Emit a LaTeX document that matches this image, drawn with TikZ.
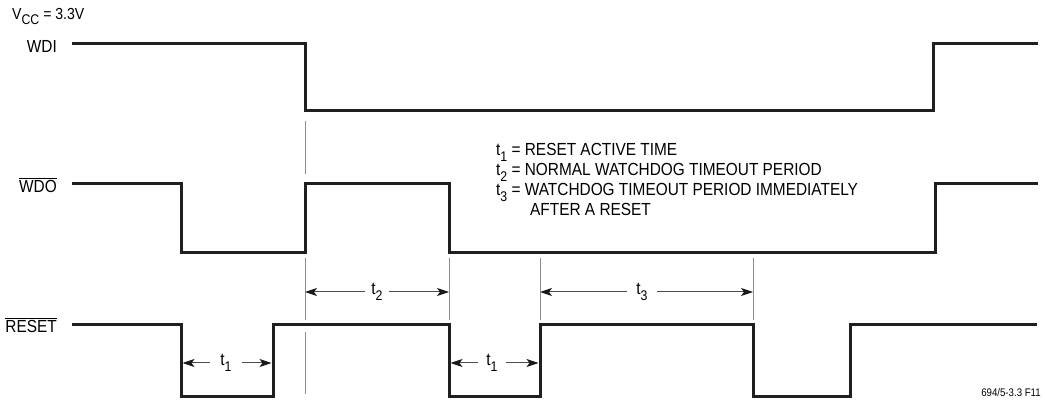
\documentclass[tikz,border=0pt]{standalone}
\usepackage{fontspec}
\setmainfont{Liberation Sans}[FakeStretch=0.88]
\usetikzlibrary{arrows.meta}
\newcommand\lsub[1]{\raisebox{-0.32em}{\fontsize{14}{14}\selectfont #1}}
\newcommand\ovl[1]{$\overline{\hbox{#1}}$}
\begin{document}
\begin{tikzpicture}[x=1pt,y=-1pt,
  sig/.style={line width=3pt,color=black!88,line join=miter},
  ext/.style={line width=1pt,color=black!45},
  dim/.style={line width=1pt,color=black!70,-{Stealth[length=12pt,width=8pt,inset=3pt,color=black!90]}},
  lbl/.style={font=\fontsize{17.5}{20}\selectfont,inner sep=0pt},
  tlbl/.style={font=\fontsize{17.5}{20}\selectfont,inner ysep=0pt,inner xsep=9pt}]
\path[use as bounding box] (0,0) rectangle (1045,403);

% signal labels
\node[lbl,anchor=base west,font=\fontsize{16}{18}\selectfont] (vcc) at (12,19.5) {V\lsub{CC} = 3.3V};
\node[lbl,anchor=east] (wdi) at (57,46) {WDI};
\node[lbl,anchor=east] (wdo) at (57,185) {\ovl{WDO}};
\node[lbl,anchor=east] (rst) at (57,325) {\ovl{RESET}};

% waveforms
\draw[sig] (72,44) -- (305,44) -- (305,111) -- (933,111) -- (933,44) -- (1038,44);
\draw[sig] (72,184) -- (181,184) -- (181,253) -- (305,253) -- (305,184) -- (449,184)
  -- (449,253) -- (935,253) -- (935,184) -- (1038,184);
\draw[sig] (72,325) -- (181,325) -- (181,397) -- (273,397) -- (273,325) -- (449,325)
  -- (449,397) -- (540,397) -- (540,325) -- (753,325) -- (753,397) -- (850,397)
  -- (850,325) -- (1037,325);

% extension lines
\draw[ext] (305,121) -- (305,174);
\draw[ext] (305,258) -- (305,320);
\draw[ext] (305,332) -- (305,394);
\draw[ext] (449,258) -- (449,320);
\draw[ext] (540,258) -- (540,320);
\draw[ext] (753,258) -- (753,320);

\coordinate (e305) at (305,0);
\coordinate (e449) at (449,0);
\coordinate (e540) at (540,0);
\coordinate (e753) at (753,0);
\coordinate (r181) at (182.5,0);
\coordinate (r273) at (271.5,0);
\coordinate (r449) at (450.5,0);
\coordinate (r540) at (538.5,0);

% dimension labels and arrows
\node[tlbl,inner xsep=6pt] (t2) at (377,292) {t\lsub{2}};
\draw[dim] (t2.west) -- (t2.west -| e305);
\draw[dim] (t2.east) -- (t2.east -| e449);

\node[tlbl] (t3) at (642,292) {t\lsub{3}};
\draw[dim] (t3.west) -- (t3.west -| e540);
\draw[dim] (t3.east) -- (t3.east -| e753);

\node[tlbl,inner xsep=10pt] (t1a) at (226,363) {t\lsub{1}};
\draw[dim] (t1a.west) -- (t1a.west -| r181);
\draw[dim] (t1a.east) -- (t1a.east -| r273);

\node[tlbl,inner xsep=8pt] (t1b) at (492,363) {t\lsub{1}};
\draw[dim] (t1b.west) -- (t1b.west -| r449);
\draw[dim] (t1b.east) -- (t1b.east -| r540);

% legend
\node[lbl,anchor=base west] (leg1) at (496,156) {t\lsub{1} = RESET ACTIVE TIME};
\node[lbl,anchor=base west] (leg2) at (496,176) {t\lsub{2} = NORMAL WATCHDOG TIMEOUT PERIOD};
\node[lbl,anchor=base west] (leg3) at (496,196) {t\lsub{3} = WATCHDOG TIMEOUT PERIOD IMMEDIATELY};
\node[lbl,anchor=base west] (leg4) at (530,216) {AFTER A RESET};

% figure code
\node[inner sep=0pt,anchor=base east,font=\fontsize{11}{12}\selectfont] (code) at (1041,397) {694/5-3.3 F11};
\end{tikzpicture}
\end{document}
